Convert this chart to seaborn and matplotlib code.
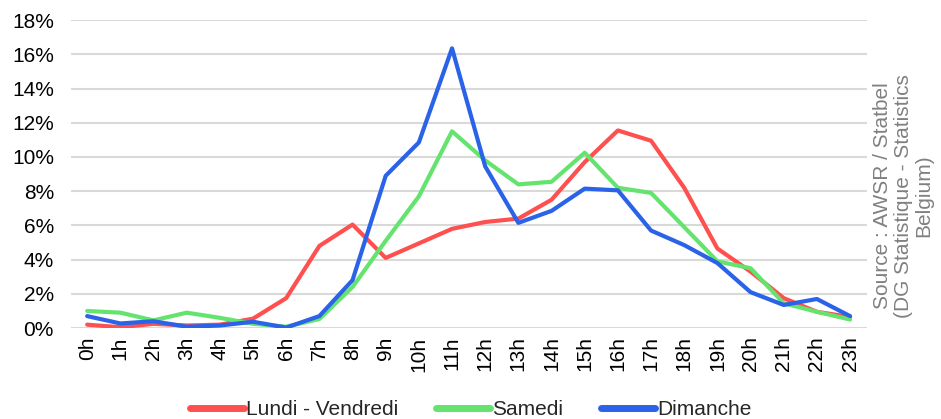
import pandas as pd
import matplotlib.pyplot as plt
import seaborn as sns

# %%

hours = [f"{h}h" for h in range(24)]

lundi_vendredi = [0.2, 0.05, 0.25, 0.15, 0.2, 0.55, 1.75, 4.8, 6.05, 4.1,
                  4.95, 5.8, 6.2, 6.4, 7.5, 9.7, 11.55, 10.95, 8.2, 4.65,
                  3.3, 1.75, 0.95, 0.65]
samedi = [1.0, 0.9, 0.45, 0.9, 0.6, 0.25, 0.08, 0.53, 2.4, 5.1,
          7.7, 11.5, 9.8, 8.4, 8.55, 10.25, 8.2, 7.9, 5.9, 3.9,
          3.5, 1.45, 0.95, 0.5]
dimanche = [0.7, 0.27, 0.4, 0.08, 0.15, 0.37, 0.03, 0.7, 2.8, 8.9,
            10.85, 16.35, 9.45, 6.15, 6.85, 8.15, 8.05, 5.7, 4.85, 3.8,
            2.1, 1.35, 1.7, 0.7]

series_names = ["Lundi - Vendredi", "Samedi", "Dimanche"]
colors = ["#ff5050", "#64e46e", "#2b63e8"]

# %%

# long format table for seaborn
df = pd.DataFrame({
    "heure": hours * 3,
    "part": lundi_vendredi + samedi + dimanche,
    "jour": [n for n in series_names for _ in hours],
})

sns.set_theme(style="white")
plt.rcParams['font.family'] = ['Liberation Sans', 'DejaVu Sans']

fig, ax = plt.subplots(figsize=(9.41, 4.19), dpi=100)
fig.subplots_adjust(left=0.075, right=0.921, top=0.952, bottom=0.217)

sns.lineplot(data=df, x="heure", y="part", hue="jour", palette=colors,
             linewidth=3, ax=ax, sort=False, legend=False)

ax.set_ylim(0, 18)
ax.set_xlim(-0.5, 23.5)
ax.set_yticks(range(0, 19, 2))
ax.set_yticklabels([f"{v}%" for v in range(0, 19, 2)], fontsize=15)
ax.set_xticks(range(24))
ax.set_xticklabels(hours, rotation=90, fontsize=15)
ax.tick_params(axis='y', length=0, pad=12, colors='black')
ax.tick_params(axis='x', length=0, pad=6, colors='black')
ax.yaxis.grid(True, color='#d9d9d9', linewidth=1.5)
ax.set_axisbelow(True)
ax.set_xlabel('')
ax.set_ylabel('')
sns.despine(ax=ax, left=True, bottom=True)

# legend below the chart
handles = [plt.Line2D([], [], color=c, linewidth=5, solid_capstyle='round')
           for c in colors]
fig.legend(handles, series_names, loc='lower center', ncol=3, frameon=False,
           fontsize=15, bbox_to_anchor=(0.5, -0.045), handlelength=2.6,
           handletextpad=0.1, columnspacing=1.8)

# source note on the right, rotated
fig.text(0.96, 0.532, "Source : AWSR / Statbel\n(DG Statistique - Statistics\nBelgium)",
         rotation=90, ha='center', va='center', multialignment='center',
         color='#808080', fontsize=15, linespacing=1.1)

plt.savefig('out.png', dpi=100)
